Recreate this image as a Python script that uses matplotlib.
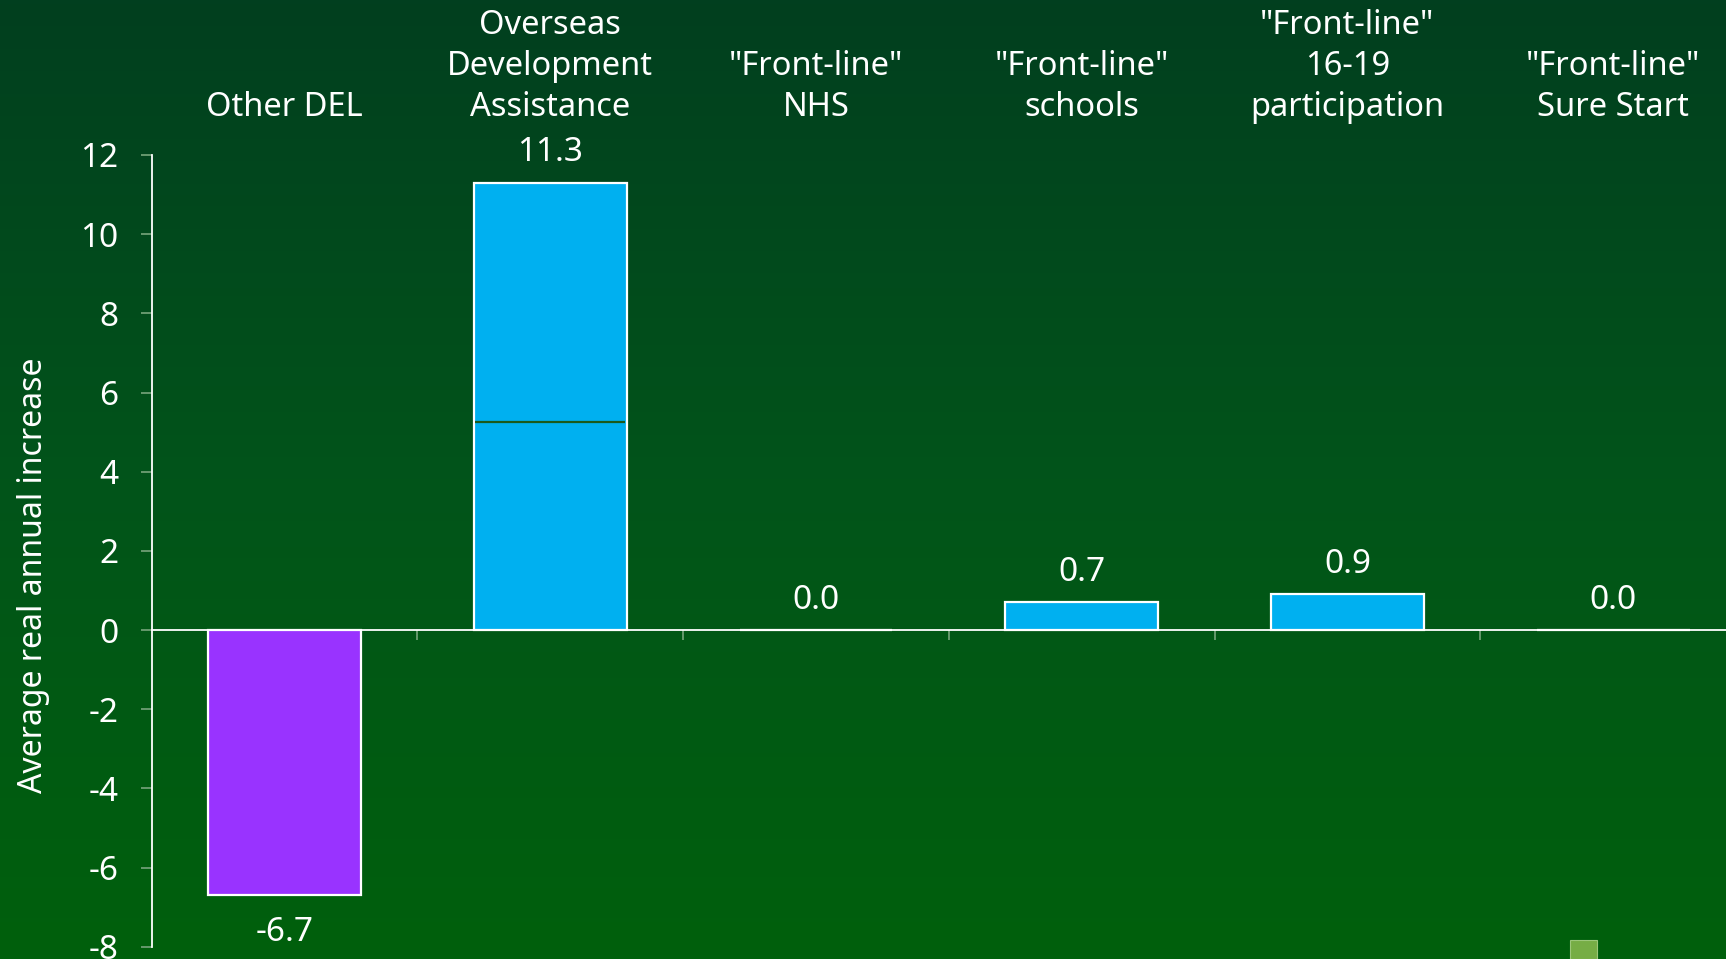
import numpy as np
import matplotlib
matplotlib.use('Agg')
import matplotlib.pyplot as plt
from matplotlib.colors import LinearSegmentedColormap
from matplotlib.patches import Rectangle
from matplotlib.transforms import blended_transform_factory

# --- data ---
categories = ['Other DEL', 'Overseas\nDevelopment\nAssistance', '"Front-line"\nNHS',
              '"Front-line"\nschools', '"Front-line"\n16-19\nparticipation', '"Front-line"\nSure Start']
values = [-6.7, 11.3, 0.0, 0.7, 0.9, 0.0]
bar_colors = ['#9933FF', '#00B0F0', '#00B0F0', '#00B0F0', '#00B0F0', '#00B0F0']
oda_split = 5.25   # internal divider drawn inside the ODA bar
y_ticks = [-8, -6, -4, -2, 0, 2, 4, 6, 8, 10, 12]

plt.rcParams['font.family'] = ['Noto Sans', 'DejaVu Sans']

W, H = 1726, 959
fig = plt.figure(figsize=(W / 100, H / 100), dpi=100)

# background gradient, dark green at top to brighter green at bottom
bg = fig.add_axes([0, 0, 1, 1], zorder=-10)
grad_cmap = LinearSegmentedColormap.from_list('bg', ['#013F1F', '#02541A', '#00600C'])
bg.imshow(np.linspace(0, 1, 256).reshape(-1, 1), aspect='auto', cmap=grad_cmap,
          extent=[0, 1, 0, 1], origin='upper')
bg.set_axis_off()

ax = fig.add_axes([151.7 / W, 12.3 / H, 1594.4 / W, 791.7 / H])
ax.patch.set_alpha(0)

x = np.arange(len(categories))
bars = ax.bar(x, values, width=0.575, color=bar_colors, edgecolor='white', linewidth=1.6, zorder=3)

# divider line inside the ODA bar
b = bars[1]
ax.hlines(oda_split, b.get_x() + 0.006, b.get_x() + b.get_width() - 0.006,
          color='#1B5A1C', linewidth=1.6, zorder=4)

ax.set_xlim(-0.5, len(categories) - 0.5)
ax.set_ylim(-8, 12)

# spines: left white, bottom sits on zero
for s in ['top', 'right']:
    ax.spines[s].set_visible(False)
ax.spines['left'].set_color('white')
ax.spines['left'].set_linewidth(1.3)
ax.spines['bottom'].set_position(('data', 0))
ax.spines['bottom'].set_color('white')
ax.spines['bottom'].set_linewidth(1.3)
ax.spines['bottom'].set_zorder(5)

ax.set_yticks(y_ticks)
ax.set_yticklabels([str(t) for t in y_ticks])
ax.tick_params(axis='y', colors='#6E9E74', labelcolor='white', labelsize=24,
               length=8, width=1.3, pad=16)

ax.set_xticks([])
ax.set_xticks(np.arange(0.5, len(categories) - 0.5, 1.0), minor=True)
ax.tick_params(axis='x', which='minor', colors='#6E9E74', length=7.5, width=1.3,
               direction='out', labelbottom=False)

ax.set_ylabel('Average real annual increase', color='white', fontsize=23)
ax.yaxis.set_label_coords(-0.064, 0.4695)

# category labels above the plot
trans = blended_transform_factory(ax.transData, ax.transAxes)
for xi, cat in zip(x, categories):
    ax.annotate(cat, xy=(xi, 1), xycoords=trans, xytext=(0, 22.6), textcoords='offset points',
                ha='center', va='bottom', color='white', fontsize=23.5, linespacing=1.31,
                annotation_clip=False)

# value labels
for xi, v in zip(x, values):
    off = 21.5 if v >= 0 else -26.5
    ax.annotate(f'{v:.1f}', xy=(xi, v), xytext=(0, off), textcoords='offset points',
                ha='center', va='center', color='white', fontsize=24, annotation_clip=False)

# small legend swatch at the bottom edge
fig.patches.append(Rectangle((1570 / W, 0), 27 / W, 19 / H, transform=fig.transFigure,
                             facecolor='#76AD45', edgecolor='#9CC77A', linewidth=0.8, zorder=10))

fig.savefig('out.png', dpi=100)
